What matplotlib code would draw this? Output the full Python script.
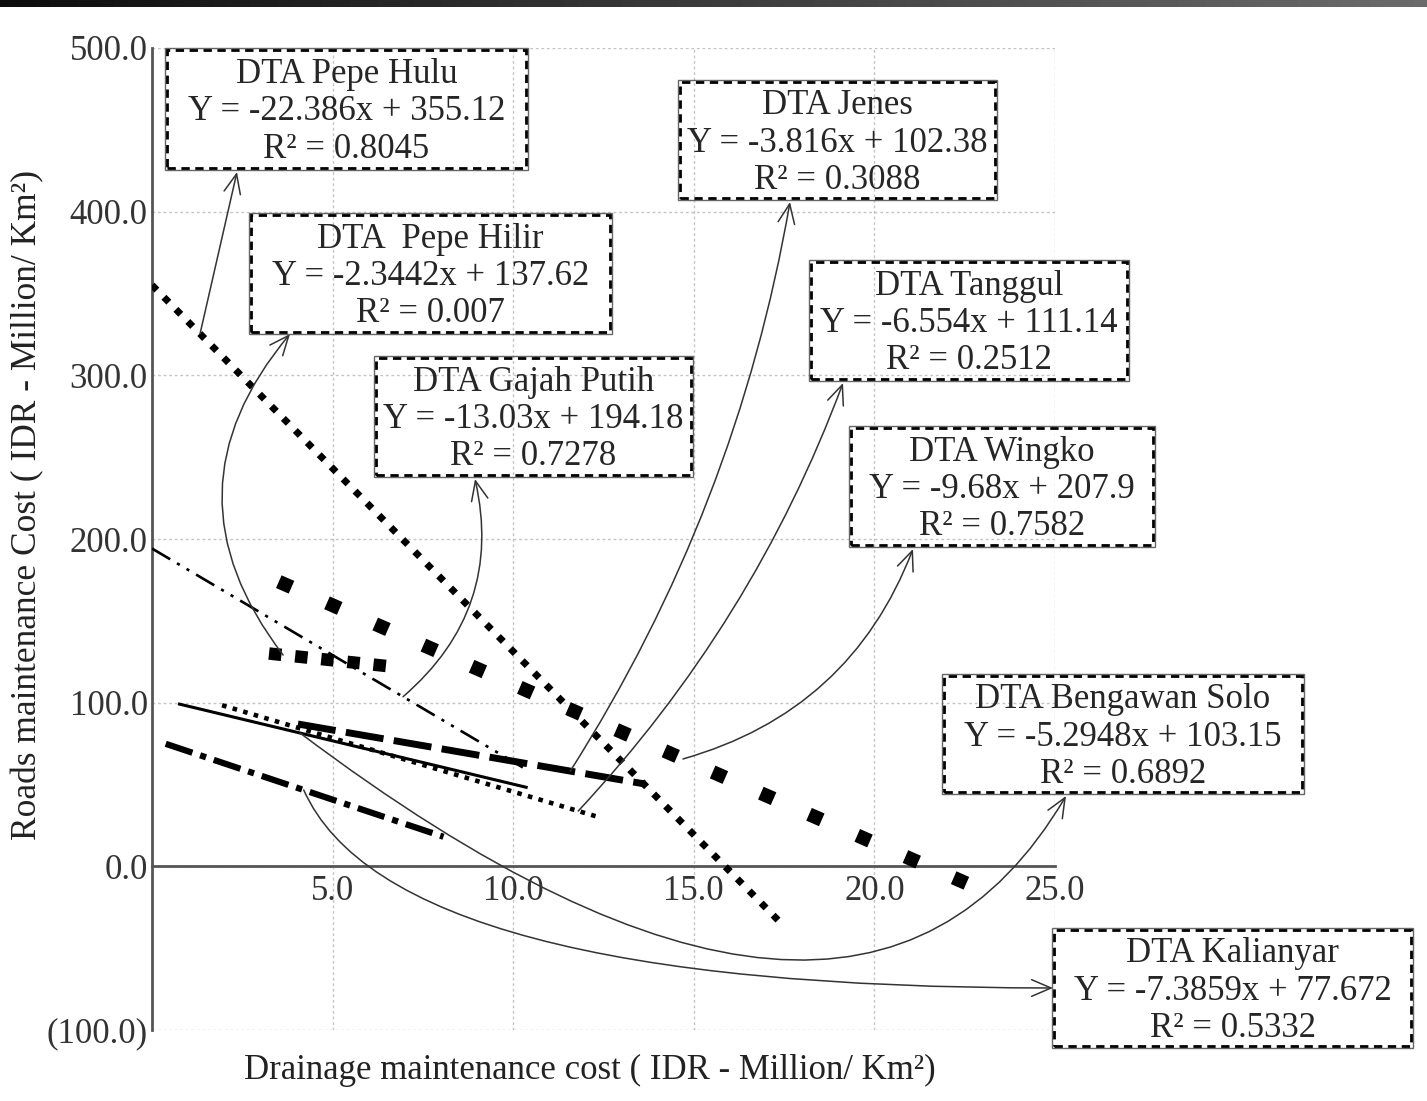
import numpy as np
import matplotlib.pyplot as plt
from matplotlib.patches import Rectangle
from matplotlib.ticker import FuncFormatter

plt.rcParams['font.family'] = ['Liberation Serif', 'DejaVu Serif']

# regression lines per DTA (catchment)
names = ['DTA Pepe Hulu', 'DTA  Pepe Hilir', 'DTA Gajah Putih', 'DTA Jenes',
         'DTA Tanggul', 'DTA Wingko', 'DTA Bengawan Solo', 'DTA Kalianyar']
slopes = [-22.386, -2.3442, -13.03, -3.816, -6.554, -9.68, -5.2948, -7.3859]
intercepts = [355.12, 137.62, 194.18, 102.38, 111.14, 207.9, 103.15, 77.672]
r2 = ['0.8045', '0.007', '0.7278', '0.3088', '0.2512', '0.7582', '0.6892', '0.5332']
x_start = [0.0, 3.24, 0.0, 4.04, 1.94, 3.51, 0.72, 0.38]
x_end = [17.4, 6.49, 10.4, 13.65, 12.45, 22.6, 10.4, 8.07]
# where each callout arrow leaves its line (x value)
x_arrow = [1.33, 3.63, 6.95, 11.58, 11.8, 14.7, 4.1, 4.2]

x_ticks = [5, 10, 15, 20, 25]
y_ticks = [-100, 0, 100, 200, 300, 400, 500]

W, H = 1427, 1101
fig = plt.figure(figsize=(W / 100, H / 100), dpi=100)

# dark strip on top of the screenshot
band = fig.add_axes([0, 1 - 7 / H, 1, 7 / H])
band.imshow(np.linspace(0.05, 0.42, 200)[None, :], aspect='auto', cmap='gray', vmin=0, vmax=1)
band.axis('off')

ax = fig.add_axes([152 / W, 1 - 1030 / H, (1055 - 152) / W, (1030 - 48) / H])
ax.set_xlim(0, 25)
ax.set_ylim(-100, 500)

styles = [
    dict(lw=5, ls=(0, (1, 1.45))),
    dict(lw=9, ls=(0, (1, 1.1))),
    dict(lw=1.9, ls=(0, (8, 3, 1.2, 3, 1.2, 3))),
    dict(lw=5, ls=(0, (5.5, 1.5))),
    dict(lw=3.3, ls=(0, (1, 1.4))),
    dict(lw=10, ls=(0, (1, 2.79))),
    dict(lw=2.2, ls='-'),
    dict(lw=4.5, ls=(0, (4.5, 1.3, 1, 1.3))),
]

for i in range(8):
    xs = np.array([x_start[i], x_end[i]])
    ax.plot(xs, slopes[i] * xs + intercepts[i], color='black',
            solid_capstyle='butt', dash_capstyle='butt', zorder=3, **styles[i])

ax.spines['top'].set_visible(False)
ax.spines['right'].set_visible(False)
ax.spines['bottom'].set_position(('data', 0))
for s in ['left', 'bottom']:
    ax.spines[s].set_color('#555555')
    ax.spines[s].set_linewidth(2)

ax.set_xticks(x_ticks)
ax.set_yticks(y_ticks)
ax.xaxis.set_major_formatter(FuncFormatter(lambda v, p: f'{v:.1f}'))
ax.yaxis.set_major_formatter(FuncFormatter(lambda v, p: f'({abs(v):.1f})' if v < 0 else f'{v:.1f}'))
ax.tick_params(axis='x', length=0, pad=6, labelsize=25, labelcolor='#333333')
ax.tick_params(axis='y', length=0, pad=3, labelsize=25, labelcolor='#333333')
ax.grid(True, color='#c4c4c4', ls=(0, (2, 2)), lw=1)
ax.set_axisbelow(True)

fig.text(28 / W, 1 - 505 / H, 'Roads maintenance Cost ( IDR - Million/ Km²)',
         rotation=90, ha='center', va='center', fontsize=25.5, color='#222222')
fig.text(590 / W, 1 - 1070 / H, 'Drainage maintenance cost ( IDR - Million/ Km²)',
         ha='center', va='center', fontsize=25, color='#222222')

# callout boxes, pixel layout (left, top, right, bottom)
boxes = [(165, 48, 528, 170), (249, 213, 612, 334), (374, 356, 693, 477),
         (678, 80, 997, 200), (809, 260, 1129, 381), (849, 426, 1155, 547),
         (942, 674, 1304, 794), (1052, 928, 1413, 1048)]
heads = [(237, 172), (290, 334), (475, 479), (790, 202), (843, 383),
         (913, 549), (1066, 796), (1053, 988)]
conns = ['arc3,rad=0', 'arc3,rad=-0.4', 'arc3,rad=0.3', 'arc3,rad=0.1',
         'arc3,rad=0.1', 'arc3,rad=0.25', 'angle3,angleA=-37,angleB=59.5',
         'angle3,angleA=-66,angleB=0']

def ff(px, py):
    return px / W, 1 - py / H

for i in range(8):
    l, t, r, b = boxes[i]
    x0, y0 = ff(l, b)
    w, h = (r - l) / W, (b - t) / H
    fig.patches.append(Rectangle((x0, y0), w, h, transform=fig.transFigure,
                                 fill=False, ec='#666666', lw=1))
    fig.patches.append(Rectangle((x0 + 2 / W, y0 + 2 / H), w - 4 / W, h - 4 / H,
                                 transform=fig.transFigure, fill=False, ec='black',
                                 lw=2, ls=(0, (3, 2))))
    label = f'{names[i]}\nY = {slopes[i]}x + {intercepts[i]}\nR² = {r2[i]}'
    cx, cy = ff((l + r) / 2, (t + b) / 2 + 3)
    fig.text(cx, cy, label, ha='center', va='center', fontsize=25,
             linespacing=1.17, color='#262626')

    xa = x_arrow[i]
    ax.annotate('', xy=ff(*heads[i]), xycoords='figure fraction',
                xytext=(xa, slopes[i] * xa + intercepts[i]), textcoords='data',
                arrowprops=dict(arrowstyle='->,head_length=0.7,head_width=0.3',
                                connectionstyle=conns[i], lw=1.1, color='#333333',
                                shrinkA=0, shrinkB=0, mutation_scale=20),
                annotation_clip=False, zorder=4)

fig.savefig('out.png', dpi=100)
